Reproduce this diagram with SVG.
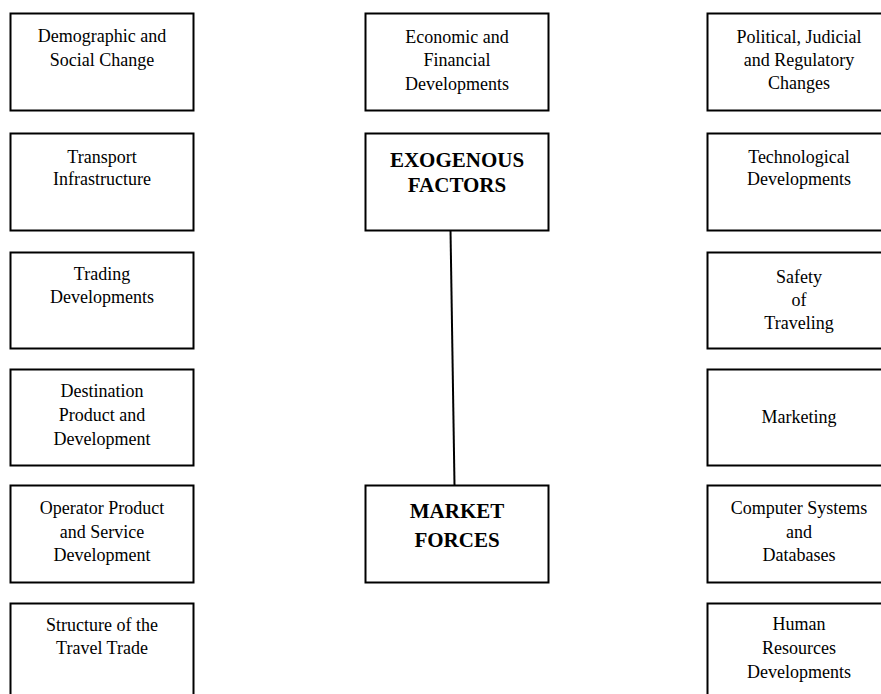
<svg xmlns="http://www.w3.org/2000/svg" width="881" height="694" viewBox="0 0 881 694">
<style>
rect.box{fill:#fff;stroke:#000;stroke-width:2}
text{font-family:"Liberation Serif","Times New Roman",serif;font-size:18px;fill:#000;text-anchor:middle}
text.b{font-weight:bold;font-size:21px}
.conn line{stroke:#000;stroke-width:2}
</style>
<rect width="881" height="694" fill="#fff"/>
<g class="conn" id="connectors">
<line x1="450.5" y1="230" x2="454.5" y2="485"/>
</g>
<g id="demographic"><rect class="box" x="10.5" y="13.5" width="183" height="97"/><text x="102" y="42">Demographic and</text><text x="102" y="66">Social Change</text></g>
<g id="transport"><rect class="box" x="10.5" y="133.5" width="183" height="97"/><text x="102" y="163">Transport</text><text x="102" y="185">Infrastructure</text></g>
<g id="trading"><rect class="box" x="10.5" y="252.5" width="183" height="96"/><text x="102" y="280">Trading</text><text x="102" y="303">Developments</text></g>
<g id="destination"><rect class="box" x="10.5" y="369.5" width="183" height="96"/><text x="102" y="397">Destination</text><text x="102" y="421">Product and</text><text x="102" y="445">Development</text></g>
<g id="operator"><rect class="box" x="10.5" y="485.5" width="183" height="97"/><text x="102" y="514">Operator Product</text><text x="102" y="538">and Service</text><text x="102" y="561">Development</text></g>
<g id="structure"><rect class="box" x="10.5" y="603.5" width="183" height="97"/><text x="102" y="631">Structure of the</text><text x="102" y="654">Travel Trade</text></g>
<g id="economic"><rect class="box" x="365.5" y="13.5" width="183" height="97"/><text x="457" y="43">Economic and</text><text x="457" y="66">Financial</text><text x="457" y="90">Developments</text></g>
<g id="exogenous"><rect class="box" x="365.5" y="133.5" width="183" height="97"/><text class="b" x="457" y="167">EXOGENOUS</text><text class="b" x="457" y="192">FACTORS</text></g>
<g id="market"><rect class="box" x="365.5" y="485.5" width="183" height="97"/><text class="b" x="457" y="518">MARKET</text><text class="b" x="457" y="547">FORCES</text></g>
<g id="political"><rect class="box" x="707.5" y="13.5" width="183" height="97"/><text x="799" y="43">Political, Judicial</text><text x="799" y="66">and Regulatory</text><text x="799" y="89">Changes</text></g>
<g id="technological"><rect class="box" x="707.5" y="133.5" width="183" height="97"/><text x="799" y="163">Technological</text><text x="799" y="185">Developments</text></g>
<g id="safety"><rect class="box" x="707.5" y="252.5" width="183" height="96"/><text x="799" y="283">Safety</text><text x="799" y="306">of</text><text x="799" y="329">Traveling</text></g>
<g id="marketing"><rect class="box" x="707.5" y="369.5" width="183" height="96"/><text x="799" y="423">Marketing</text></g>
<g id="computer"><rect class="box" x="707.5" y="485.5" width="183" height="97"/><text x="799" y="514">Computer Systems</text><text x="799" y="538">and</text><text x="799" y="561">Databases</text></g>
<g id="human"><rect class="box" x="707.5" y="603.5" width="183" height="97"/><text x="799" y="630">Human</text><text x="799" y="654">Resources</text><text x="799" y="678">Developments</text></g>
</svg>
